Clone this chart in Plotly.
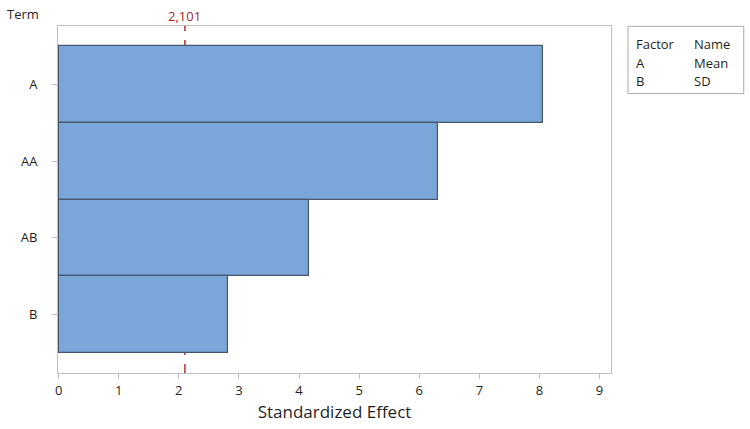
import plotly.graph_objects as go

# Data
terms = ["A", "AA", "AB", "B"]
effects = [8.06, 6.31, 4.16, 2.81]
threshold = 2.101
threshold_label = "2,101"
x_ticks = [0, 1, 2, 3, 4, 5, 6, 7, 8, 9]
factor_codes = ["A", "B"]
factor_names = ["Mean", "SD"]

W, H = 750, 429
L, R, T, B = 58.3, 139.3, 25.7, 56.3
pw = W - L - R
ph = H - T - B


def px_x(x):
    return (x - L) / pw


def px_y(y):
    return (H - B - y) / ph


FONT = "Open Sans"
TXT = "#1f1f1f"
GRID = "#BFBFBF"
FS = 13

fig = go.Figure()
fig.add_trace(go.Bar(
    y=terms, x=effects, orientation="h", width=1,
    marker=dict(color="#7BA6D9", line=dict(color="#46566C", width=1.2)),
    hoverinfo="x+y",
))

fig.add_shape(type="line", xref="x", yref="paper", x0=threshold, x1=threshold,
              y0=0, y1=1, layer="below",
              line=dict(color="#C23B3B", width=1.6, dash="dash"))
fig.add_annotation(x=threshold, xref="x", y=px_y(16), yref="paper",
                   text=threshold_label, showarrow=False,
                   font=dict(family=FONT, size=FS, color="#A52A2A"),
                   xanchor="center", yanchor="middle")

fig.add_annotation(x=px_x(5), xref="paper", y=px_y(14), yref="paper",
                   text="Term", showarrow=False, xanchor="left", yanchor="middle",
                   font=dict(family=FONT, size=FS, color=TXT))

# factor table
fig.add_shape(type="rect", xref="paper", yref="paper",
              x0=px_x(627.7), x1=px_x(743.3), y0=px_y(93.3), y1=px_y(26),
              line=dict(color="#AAAAAA", width=1), fillcolor="white")
rows = [("Factor", "Name")] + list(zip(factor_codes, factor_names))
row_y = [43.3, 62.5, 81]
for (c, n), yy in zip(rows, row_y):
    fig.add_annotation(x=px_x(634), xref="paper", y=px_y(yy), yref="paper",
                       text=c, showarrow=False, xanchor="left", yanchor="middle",
                       font=dict(family=FONT, size=FS, color=TXT))
    fig.add_annotation(x=px_x(692), xref="paper", y=px_y(yy), yref="paper",
                       text=n, showarrow=False, xanchor="left", yanchor="middle",
                       font=dict(family=FONT, size=FS, color=TXT))

fig.update_layout(
    width=W, height=H,
    margin=dict(l=L, r=R, t=T, b=B, pad=0),
    paper_bgcolor="white", plot_bgcolor="white",
    showlegend=False, bargap=0,
    font=dict(family=FONT, size=FS, color=TXT),
    xaxis=dict(
        range=[-0.01, 9.19], tickvals=x_ticks,
        showgrid=False, zeroline=False,
        showline=True, linecolor=GRID, linewidth=1, mirror=True,
        ticks="outside", ticklen=5, tickcolor=GRID,
        tickfont=dict(family=FONT, size=FS, color=TXT),
        title=dict(text="Standardized Effect", standoff=8,
                   font=dict(family=FONT, size=17, color=TXT)),
    ),
    yaxis=dict(
        type="category", categoryorder="array", categoryarray=terms,
        range=[3.76, -0.76],
        showgrid=False, zeroline=False,
        showline=True, linecolor=GRID, linewidth=1, mirror=True,
        ticks="outside", ticklen=5, tickcolor=GRID,
        ticklabelstandoff=12,
        tickfont=dict(family=FONT, size=FS, color=TXT),
    ),
)

fig.write_html("out.html", config={"displayModeBar": False},
               post_script="document.body.style.margin='0';")
